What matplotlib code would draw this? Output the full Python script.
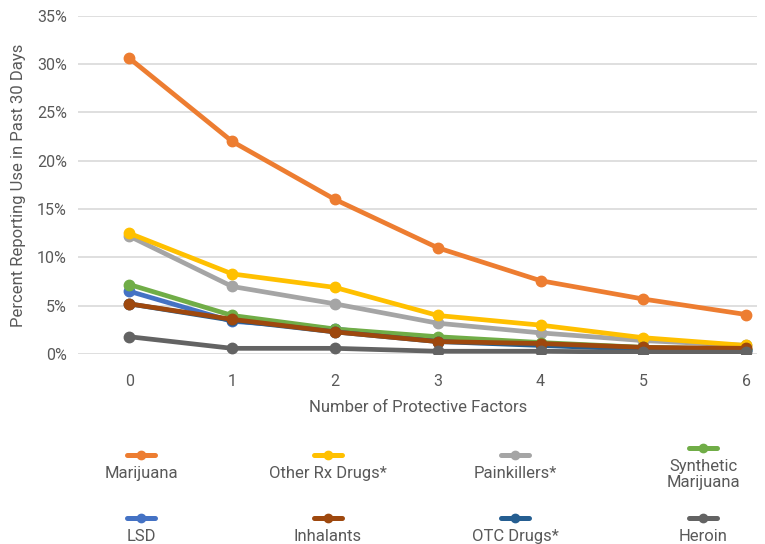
import numpy as np
import matplotlib
matplotlib.use("Agg")
from matplotlib import pyplot as plt
from matplotlib.lines import Line2D

plt.rcParams['font.family'] = ['Roboto', 'DejaVu Sans']

factors = [0, 1, 2, 3, 4, 5, 6]
names = ['Marijuana', 'Other Rx Drugs*', 'Painkillers*', 'Synthetic\nMarijuana',
         'LSD', 'Inhalants', 'OTC Drugs*', 'Heroin']
marijuana   = [30.6, 22.0, 16.0, 11.0, 7.6, 5.7, 4.1]
other_rx    = [12.5, 8.3, 6.9, 4.0, 3.0, 1.7, 0.9]
painkillers = [12.2, 7.0, 5.2, 3.2, 2.2, 1.4, 0.9]
synthetic   = [7.2, 4.0, 2.6, 1.8, 1.2, 0.7, 0.5]
lsd         = [6.5, 3.4, 2.6, 1.5, 1.0, 0.6, 0.4]
inhalants   = [5.2, 3.6, 2.3, 1.3, 1.1, 0.7, 0.6]
otc         = [5.2, 3.5, 2.3, 1.3, 0.9, 0.5, 0.4]
heroin      = [1.8, 0.6, 0.6, 0.3, 0.3, 0.2, 0.2]

series = [marijuana, other_rx, painkillers, synthetic, lsd, inhalants, otc, heroin]
colors = ['#ED7D31', '#FFC000', '#A5A5A5', '#70AD47', '#4472C4', '#9E480E', '#255E91', '#636363']
zorders = [3, 5, 4, 7, 6, 9, 8, 10]

txt = '#595959'
fig = plt.figure(figsize=(7.65, 5.44), dpi=100)
ax = fig.add_axes([0.102, 0.349, 0.888, 0.622])

for vals, c, z in zip(series, colors, zorders):
    ax.plot(factors, vals, color=c, lw=3.4, marker='o', ms=7.5, zorder=z,
            solid_capstyle='round')

ax.set_xlim(-0.5, 6.11)
ax.set_ylim(0, 35)
ax.set_yticks(np.arange(0, 36, 5))
ax.set_yticklabels([f'{v}%' for v in range(0, 36, 5)])
ax.set_xticks(factors)
ax.grid(axis='y', color='#D9D9D9', lw=1.2, zorder=0)
ax.set_axisbelow(True)
for s in ax.spines.values():
    s.set_visible(False)
ax.tick_params(length=0, colors=txt, labelsize=11.5, pad=8)
ax.tick_params(axis='x', pad=14)
ax.set_xlabel('Number of Protective Factors', color=txt, fontsize=12, labelpad=8)
ax.set_ylabel('Percent Reporting Use in Past 30 Days', color=txt, fontsize=12, labelpad=8)

# legend: handle above label, 4 columns x 2 rows
col_x = [141, 328, 515, 703]
row_y = [455, 518]
W, H = 765, 544
for i, (name, c) in enumerate(zip(names, colors)):
    cx = col_x[i % 4]
    hy = row_y[i // 4]
    if '\n' in name:
        hy -= 7
    fig.add_artist(Line2D([(cx - 14) / W, (cx + 14) / W], [1 - hy / H, 1 - hy / H],
                          color=c, lw=3.6, solid_capstyle='round'))
    fig.add_artist(Line2D([cx / W], [1 - hy / H], color=c, marker='o', ms=6))
    fig.text(cx / W, 1 - (hy + 11) / H, name, color=txt, fontsize=12,
             ha='center', va='top', linespacing=1.05)

fig.savefig('out.png', dpi=100)
